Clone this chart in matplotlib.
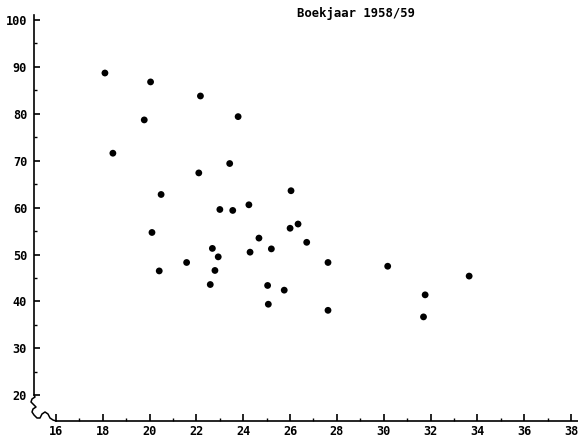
import matplotlib
matplotlib.use("Agg")
import matplotlib.pyplot as plt
from matplotlib.ticker import MultipleLocator

# Data
x_vals = [18.09, 20.04, 22.17, 19.77, 23.78, 18.43, 23.42, 22.10,
          20.49, 23.00, 23.55, 24.24, 20.10, 24.67, 22.68, 24.29,
          25.20, 22.93, 21.58, 20.41, 22.79, 22.59, 25.04, 25.07,
          26.04, 26.00, 26.34, 26.71, 27.62, 25.75, 27.62,
          30.17, 31.77, 31.70, 33.65]
y_vals = [88.7, 86.8, 83.8, 78.7, 79.4, 71.6, 69.4, 67.4,
          62.8, 59.6, 59.4, 60.6, 54.7, 53.5, 51.3, 50.5,
          51.2, 49.5, 48.3, 46.5, 46.6, 43.6, 43.4, 39.4,
          63.6, 55.6, 56.5, 52.6, 48.3, 42.4, 38.1,
          47.5, 41.4, 36.7, 45.4]
title_text = "Boekjaar 1958/59"
x_ticks = list(range(16, 39, 2))
y_ticks = list(range(20, 101, 10))

W, H = 578, 438
fig = plt.figure(figsize=(W / 100, H / 100), dpi=100)
ax = fig.add_axes([34 / W, (H - 421) / H, 544 / W, 406 / H])

ax.scatter(x_vals, y_vals, s=24, color="black", edgecolors="none", zorder=3)

ax.set_xlim(15.06, 38.30)
ax.set_ylim(14.50, 101.07)

for s in ["top", "right"]:
    ax.spines[s].set_visible(False)
ax.spines["left"].set_bounds(20, 101.07)
ax.spines["bottom"].set_bounds(16, 38.30)
for s in ["left", "bottom"]:
    ax.spines[s].set_linewidth(1.2)
    ax.spines[s].set_color("black")

ax.set_xticks(x_ticks)
ax.set_yticks(y_ticks)
ax.set_xticks([v for v in range(17, 38, 2)], minor=True)
ax.set_yticks([v for v in range(25, 100, 10)], minor=True)

lab_font = dict(family="DejaVu Sans Mono", weight="bold", size=8.6)
ax.set_xticklabels([str(v) for v in x_ticks], fontdict=lab_font)
ax.set_yticklabels([str(v) for v in y_ticks], fontdict=lab_font)
ax.tick_params(axis="both", which="major", direction="in", width=1.2, color="black")
ax.tick_params(axis="x", which="major", length=5, pad=3)
ax.tick_params(axis="y", which="major", length=4.5, pad=5)
ax.tick_params(axis="both", which="minor", direction="in", length=2.5, width=1.0, color="black")

# axis break squiggle (pixel coords -> figure fraction)
sq = [(34, 395), (35, 397), (32, 399), (31, 402), (34, 405), (36, 407), (33, 409),
      (32, 412), (34, 415), (37, 418), (40, 418), (42, 414), (45, 412),
      (48, 414), (50, 418), (53, 420), (56, 421)]
fig.add_artist(plt.Line2D([p[0] / W for p in sq], [(H - p[1]) / H for p in sq],
                          color="black", lw=1.1))

fig.text(356 / W, (H - 14) / H, title_text, ha="center", va="center",
         family="DejaVu Sans Mono", weight="semibold", size=8.8)

fig.savefig("out.png", dpi=100, facecolor="white")
